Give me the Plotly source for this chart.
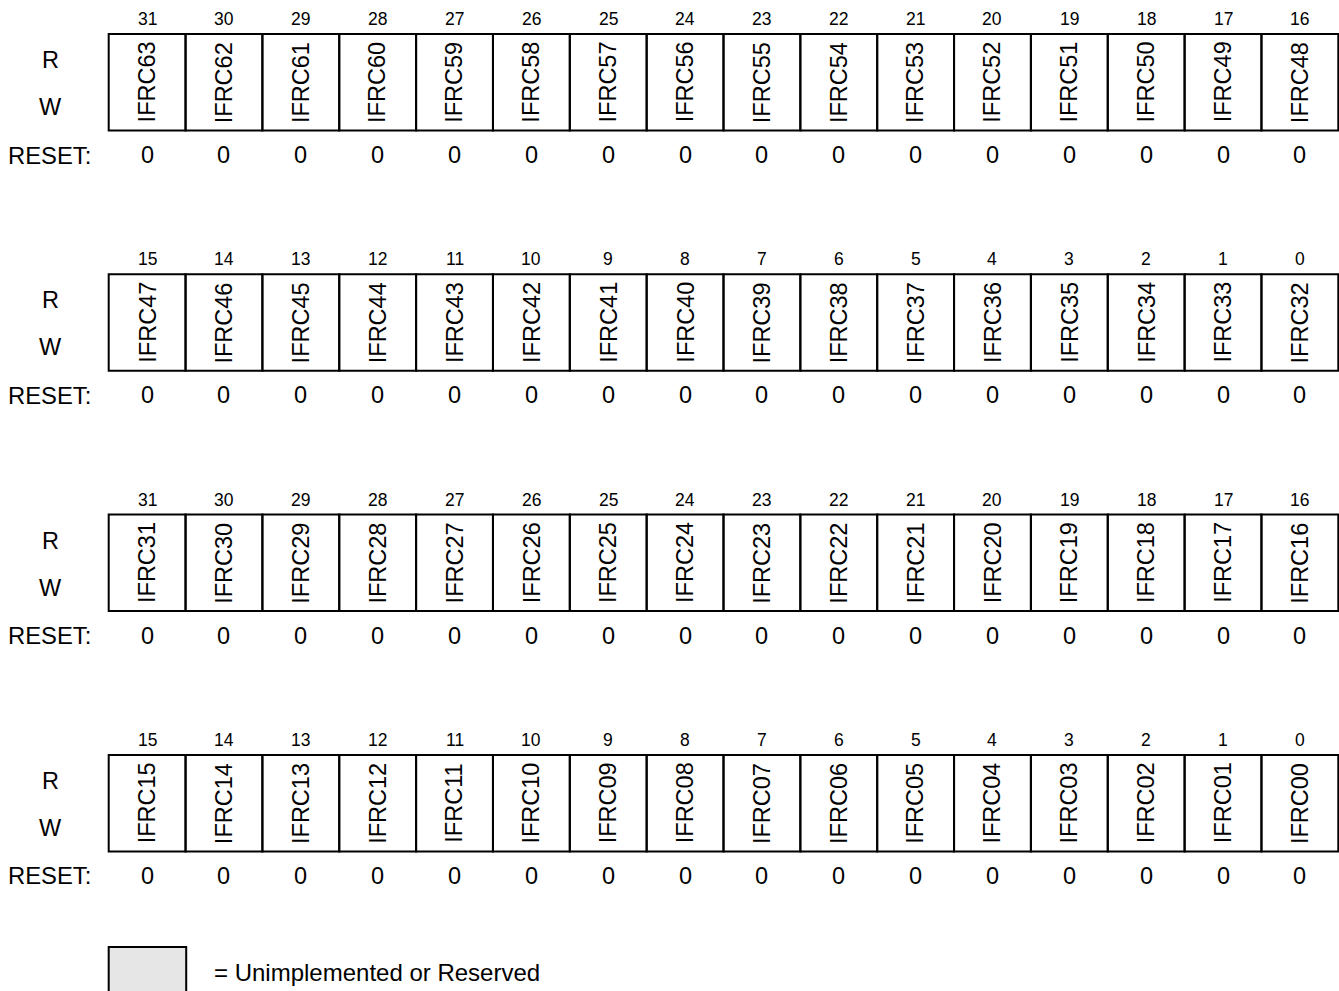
import plotly.graph_objects as go

# register content, one list per printed row (bit 31 .. bit 0 of each half word)
row1_fields = ['IFRC63', 'IFRC62', 'IFRC61', 'IFRC60', 'IFRC59', 'IFRC58', 'IFRC57', 'IFRC56',
               'IFRC55', 'IFRC54', 'IFRC53', 'IFRC52', 'IFRC51', 'IFRC50', 'IFRC49', 'IFRC48']
row2_fields = ['IFRC47', 'IFRC46', 'IFRC45', 'IFRC44', 'IFRC43', 'IFRC42', 'IFRC41', 'IFRC40',
               'IFRC39', 'IFRC38', 'IFRC37', 'IFRC36', 'IFRC35', 'IFRC34', 'IFRC33', 'IFRC32']
row3_fields = ['IFRC31', 'IFRC30', 'IFRC29', 'IFRC28', 'IFRC27', 'IFRC26', 'IFRC25', 'IFRC24',
               'IFRC23', 'IFRC22', 'IFRC21', 'IFRC20', 'IFRC19', 'IFRC18', 'IFRC17', 'IFRC16']
row4_fields = ['IFRC15', 'IFRC14', 'IFRC13', 'IFRC12', 'IFRC11', 'IFRC10', 'IFRC09', 'IFRC08',
               'IFRC07', 'IFRC06', 'IFRC05', 'IFRC04', 'IFRC03', 'IFRC02', 'IFRC01', 'IFRC00']

bits_high = [31, 30, 29, 28, 27, 26, 25, 24, 23, 22, 21, 20, 19, 18, 17, 16]
bits_low = [15, 14, 13, 12, 11, 10, 9, 8, 7, 6, 5, 4, 3, 2, 1, 0]

reset_row1 = [0, 0, 0, 0, 0, 0, 0, 0, 0, 0, 0, 0, 0, 0, 0, 0]
reset_row2 = [0, 0, 0, 0, 0, 0, 0, 0, 0, 0, 0, 0, 0, 0, 0, 0]
reset_row3 = [0, 0, 0, 0, 0, 0, 0, 0, 0, 0, 0, 0, 0, 0, 0, 0]
reset_row4 = [0, 0, 0, 0, 0, 0, 0, 0, 0, 0, 0, 0, 0, 0, 0, 0]

access_labels = ['R', 'W']
legend_text = '= Unimplemented or Reserved'

rows = [
    (row1_fields, bits_high, reset_row1),
    (row2_fields, bits_low, reset_row2),
    (row3_fields, bits_high, reset_row3),
    (row4_fields, bits_low, reset_row4),
]

# layout in page pixels
W, H = 1339, 991
FONT = 'Liberation Sans, Arial, Helvetica, sans-serif'
LEFT = 108.7
CELL_W = 76.85
TOP0 = 34
ROW_STEP = 240.3
BOX_H = 96.5

shapes = []
annotations = []


def text(x, y, s, size, angle=0, xanchor='center'):
    annotations.append(dict(x=x, y=y, xref='x', yref='y', text=s, showarrow=False,
                            textangle=angle, xanchor=xanchor, yanchor='middle',
                            font=dict(family=FONT, size=size, color='black')))


for r, (fields, bits, resets) in enumerate(rows):
    top = TOP0 + r * ROW_STEP
    text(50, top + 26, access_labels[0], 23.5)
    text(50, top + 73, access_labels[1], 23.5)
    text(6, top + 121, 'RESET:', 23.8, xanchor='left')
    for i, (name, bit, rv) in enumerate(zip(fields, bits, resets)):
        x0 = LEFT + i * CELL_W
        shapes.append(dict(type='rect', xref='x', yref='y', x0=x0, x1=x0 + CELL_W,
                           y0=top, y1=top + BOX_H, line=dict(color='black', width=2)))
        cx = x0 + CELL_W / 2
        text(cx, top - 15, str(bit), 17.5)
        text(cx, top + BOX_H / 2, name, 23.5, angle=-90)
        text(cx, top + 121, str(rv), 23.5)

# legend
shapes.append(dict(type='rect', xref='x', yref='y', x0=LEFT, x1=LEFT + 77.5,
                   y0=947, y1=1010, fillcolor='#e6e6e6', line=dict(color='black', width=2)))
text(212, 972, legend_text, 24, xanchor='left')

fig = go.Figure()
fig.add_trace(go.Scatter(x=[0, W], y=[0, H], mode='markers', marker=dict(opacity=0),
                         hoverinfo='skip', showlegend=False))
fig.update_layout(width=W, height=H, margin=dict(l=0, r=0, t=0, b=0),
                  paper_bgcolor='white', plot_bgcolor='white',
                  xaxis=dict(range=[0, W], visible=False, fixedrange=True),
                  yaxis=dict(range=[H, 0], visible=False, fixedrange=True),
                  shapes=shapes, annotations=annotations)

# drop the default 8px page margin so the figure sits at the top-left corner
fig.write_html('out.html', config={'displayModeBar': False},
               post_script="document.body.style.margin='0px';"
                           "document.body.style.overflow='hidden';")
